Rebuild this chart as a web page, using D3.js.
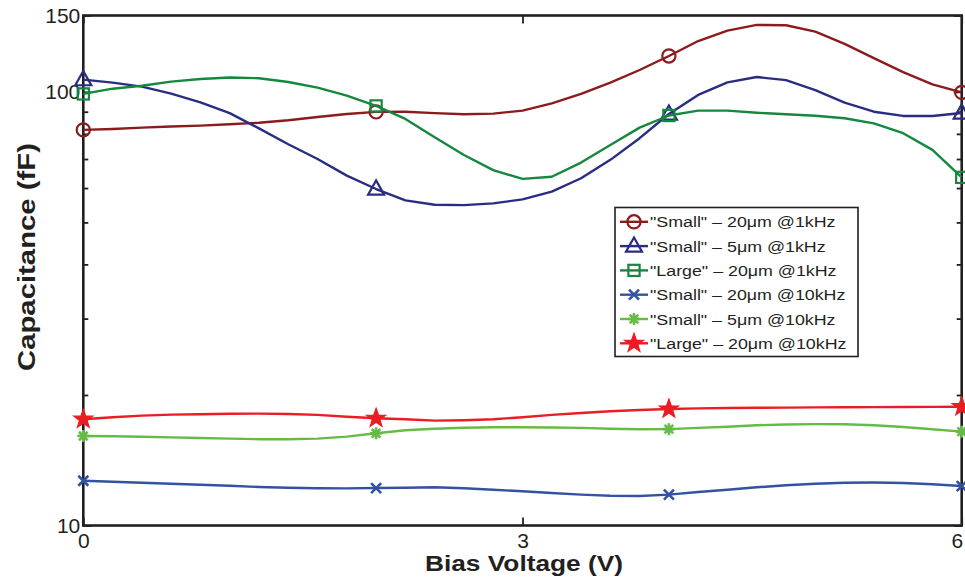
<!DOCTYPE html>
<html>
<head>
<meta charset="utf-8">
<script src="https://cdn.jsdelivr.net/npm/d3@7"></script>
<style>
  body { margin: 0; background: #fff; }
  svg { display: block; }
  text { font-family: "Liberation Sans", Arial, Helvetica, sans-serif; fill: #231f20; }
</style>
</head>
<body>
<svg id="chart" width="965" height="579"></svg>
<script>
// Bias sweep (V) and the voltages that carry a marker
const biasVoltage = [0, 0.2, 0.4, 0.6, 0.8, 1.0, 1.2, 1.4, 1.6, 1.8, 2.0, 2.2, 2.4, 2.6, 2.8, 3.0,
                     3.2, 3.4, 3.6, 3.8, 4.0, 4.2, 4.4, 4.6, 4.8, 5.0, 5.2, 5.4, 5.6, 5.8, 6.0];
const markerVoltages = [0, 2, 4, 6];

// Capacitance (fF)
const small20um1k = [81.7, 82.1, 82.7, 83.2, 83.6, 84.2, 84.9, 86.0, 87.5, 88.9, 89.9, 90.0, 89.3, 88.8, 89.1, 90.5,
                     94.1, 98.9, 105.0, 112.3, 121.0, 131.0, 138.4, 142.7, 142.4, 137.7, 129.0, 119.6, 111.0, 104.1, 99.7];
const small5um1k = [106.7, 105.0, 102.8, 99.1, 94.6, 89.3, 82.4, 75.7, 70.0, 64.1, 59.7, 56.2, 54.9, 54.8, 55.3, 56.5,
                    58.9, 63.2, 69.7, 78.2, 88.9, 98.4, 105.2, 108.2, 106.4, 100.9, 94.4, 90.0, 88.0, 88.0, 89.4];
const large20um1k = [98.9, 101.7, 103.3, 105.6, 107.1, 107.9, 107.5, 105.4, 102.3, 98.0, 92.8, 86.6, 78.6, 71.5, 66.0, 63.0,
                     63.7, 68.7, 75.4, 82.7, 88.2, 90.5, 90.5, 89.5, 88.8, 88.1, 86.9, 84.6, 80.3, 73.5, 63.5];
const small20um10k = [12.68, 12.62, 12.55, 12.48, 12.42, 12.35, 12.27, 12.22, 12.19, 12.18, 12.20, 12.22, 12.25, 12.19, 12.09, 11.99,
                      11.88, 11.78, 11.71, 11.70, 11.78, 11.95, 12.09, 12.25, 12.38, 12.48, 12.55, 12.56, 12.53, 12.45, 12.33];
const small5um10k = [16.08, 16.06, 16.02, 15.97, 15.91, 15.86, 15.81, 15.81, 15.86, 16.03, 16.32, 16.58, 16.72, 16.80, 16.85, 16.85,
                     16.83, 16.79, 16.71, 16.67, 16.68, 16.79, 16.90, 17.03, 17.10, 17.13, 17.12, 17.03, 16.87, 16.67, 16.46];
const large20um10k = [17.58, 17.77, 17.92, 18.02, 18.06, 18.10, 18.11, 18.08, 17.99, 17.82, 17.67, 17.58, 17.45, 17.49, 17.58, 17.77,
                      17.99, 18.17, 18.34, 18.46, 18.56, 18.63, 18.66, 18.68, 18.70, 18.72, 18.73, 18.75, 18.76, 18.77, 18.79];

const seriesLabels = ['"Small" \u2013 20\u03bcm @1kHz', '"Small" \u2013 5\u03bcm @1kHz', '"Large" \u2013 20\u03bcm @1kHz',
                      '"Small" \u2013 20\u03bcm @10kHz', '"Small" \u2013 5\u03bcm @10kHz', '"Large" \u2013 20\u03bcm @10kHz'];

const xTickValues = [0, 3, 6];
const yTickValues = [10, 100, 150];
const yMinorTicks = [20, 30, 40, 50, 60, 70, 80, 90];
const xTitle = "Bias Voltage (V)";
const yTitle = "Capacitance (fF)";

const series = [
  { label: seriesLabels[0], values: small20um1k,  color: "#8c1b1d", marker: "circle" },
  { label: seriesLabels[1], values: small5um1k,   color: "#2a2c82", marker: "triangle" },
  { label: seriesLabels[2], values: large20um1k,  color: "#15873f", marker: "square" },
  { label: seriesLabels[3], values: small20um10k, color: "#3452a2", marker: "cross" },
  { label: seriesLabels[4], values: small5um10k,  color: "#66bb46", marker: "asterisk" },
  { label: seriesLabels[5], values: large20um10k, color: "#ec1c24", marker: "star" }
];

const svg = d3.select("#chart");
const plot = { left: 83.3, right: 961.7, top: 15.5, bottom: 525.5 };

const x = d3.scaleLinear().domain([0, 6]).range([plot.left, plot.right]);
const y = d3.scaleLog().domain([10, 150]).range([plot.bottom, plot.top]);

// Draws one marker glyph centred on the origin of group g
function drawMarker(g, type, color) {
  const sw = 2.2;
  if (type === "circle") {
    g.append("circle").attr("r", 6.6).attr("fill", "none").attr("stroke", color).attr("stroke-width", sw);
  } else if (type === "triangle") {
    g.append("path").attr("d", "M0,-8.6L8,5.6L-8,5.6Z")
      .attr("fill", "none").attr("stroke", color).attr("stroke-width", sw).attr("stroke-linejoin", "miter");
  } else if (type === "square") {
    g.append("rect").attr("x", -5.6).attr("y", -5.6).attr("width", 11.2).attr("height", 11.2)
      .attr("fill", "none").attr("stroke", color).attr("stroke-width", sw);
  } else if (type === "cross") {
    g.append("path").attr("d", "M-5,-5L5,5M-5,5L5,-5")
      .attr("stroke", color).attr("stroke-width", 2.6).attr("fill", "none");
  } else if (type === "asterisk") {
    g.append("path").attr("d", "M-6,0L6,0M0,-6L0,6M-4.3,-4.3L4.3,4.3M-4.3,4.3L4.3,-4.3")
      .attr("stroke", color).attr("stroke-width", 2.6).attr("fill", "none");
  } else if (type === "star") {
    const pts = [];
    for (let i = 0; i < 10; i++) {
      const r = i % 2 === 0 ? 10 : 4;
      const a = -Math.PI / 2 + i * Math.PI / 5;
      pts.push([r * Math.cos(a), r * Math.sin(a)]);
    }
    g.append("path").attr("d", "M" + pts.map(p => p.join(",")).join("L") + "Z")
      .attr("fill", color).attr("stroke", color).attr("stroke-width", 1.2).attr("stroke-linejoin", "miter");
  }
}

// Axes: ticks drawn inward on all four sides
const axisStyle = sel => {
  sel.select(".domain").remove();
  sel.selectAll(".tick line").attr("stroke", "#231f20").attr("stroke-width", 1.8);
  sel.selectAll(".tick text").attr("font-size", 21).attr("fill", "#231f20");
};

svg.append("g").attr("transform", `translate(${plot.left},0)`)
  .call(d3.axisLeft(y).tickValues(yTickValues).tickFormat(d3.format("d")).tickSizeInner(-8).tickSizeOuter(0).tickPadding(3))
  .call(axisStyle);
svg.append("g").attr("transform", `translate(${plot.left},0)`)
  .call(d3.axisLeft(y).tickValues(yMinorTicks).tickFormat("").tickSizeInner(-5).tickSizeOuter(0))
  .call(axisStyle);
svg.append("g").attr("transform", `translate(${plot.right},0)`)
  .call(d3.axisRight(y).tickValues(yTickValues).tickFormat("").tickSizeInner(-8).tickSizeOuter(0))
  .call(axisStyle);
svg.append("g").attr("transform", `translate(${plot.right},0)`)
  .call(d3.axisRight(y).tickValues(yMinorTicks).tickFormat("").tickSizeInner(-5).tickSizeOuter(0))
  .call(axisStyle);
const xAxis = svg.append("g").attr("transform", `translate(0,${plot.bottom})`)
  .call(d3.axisBottom(x).tickValues(xTickValues).tickFormat(d3.format("d")).tickSizeInner(-8).tickSizeOuter(0).tickPadding(8))
  .call(axisStyle);
// keep the last tick label inside the page edge
xAxis.selectAll(".tick text").filter(d => d === 6).attr("text-anchor", "end").attr("dx", "0.05em");
svg.append("g").attr("transform", `translate(0,${plot.top})`)
  .call(d3.axisTop(x).tickValues(xTickValues).tickFormat("").tickSizeInner(-8).tickSizeOuter(0))
  .call(axisStyle);

// Plot frame
svg.append("rect")
  .attr("x", plot.left).attr("y", plot.top)
  .attr("width", plot.right - plot.left).attr("height", plot.bottom - plot.top)
  .attr("fill", "none").attr("stroke", "#231f20").attr("stroke-width", 2.6);

// Series lines and markers
const line = d3.line().x((d, i) => x(biasVoltage[i])).y(d => y(d));
series.forEach(s => {
  svg.append("path").datum(s.values)
    .attr("d", line).attr("fill", "none")
    .attr("stroke", s.color).attr("stroke-width", 2.4).attr("stroke-linejoin", "round");
  markerVoltages.forEach(v => {
    const i = biasVoltage.indexOf(v);
    const g = svg.append("g").attr("transform", `translate(${x(v)},${y(s.values[i])})`);
    drawMarker(g, s.marker, s.color);
  });
});

// Axis titles
svg.append("text")
  .attr("x", 524).attr("y", 571).attr("text-anchor", "middle")
  .attr("font-size", 22).attr("font-weight", "bold")
  .attr("textLength", 198).attr("lengthAdjust", "spacingAndGlyphs")
  .text(xTitle);
svg.append("text")
  .attr("transform", "translate(35,257) rotate(-90)").attr("text-anchor", "middle")
  .attr("font-size", 23).attr("font-weight", "bold")
  .attr("textLength", 228).attr("lengthAdjust", "spacingAndGlyphs")
  .text(yTitle);

// Legend
const legend = svg.append("g");
legend.append("rect")
  .attr("x", 615).attr("y", 207.5).attr("width", 243).attr("height", 149)
  .attr("fill", "#fff").attr("stroke", "#231f20").attr("stroke-width", 1.6);
series.forEach((s, k) => {
  const ry = 221.8 + k * 24.3;
  legend.append("line").attr("x1", 620).attr("x2", 648).attr("y1", ry).attr("y2", ry)
    .attr("stroke", s.color).attr("stroke-width", 2.4);
  drawMarker(legend.append("g").attr("transform", `translate(634,${ry})`), s.marker, s.color);
  legend.append("g").attr("transform", `translate(650,${ry}) scale(1.15,1)`)
    .append("text").attr("x", 0).attr("y", 0).attr("dy", "0.36em")
    .attr("font-size", 15.5).text(s.label);
});
</script>
</body>
</html>
